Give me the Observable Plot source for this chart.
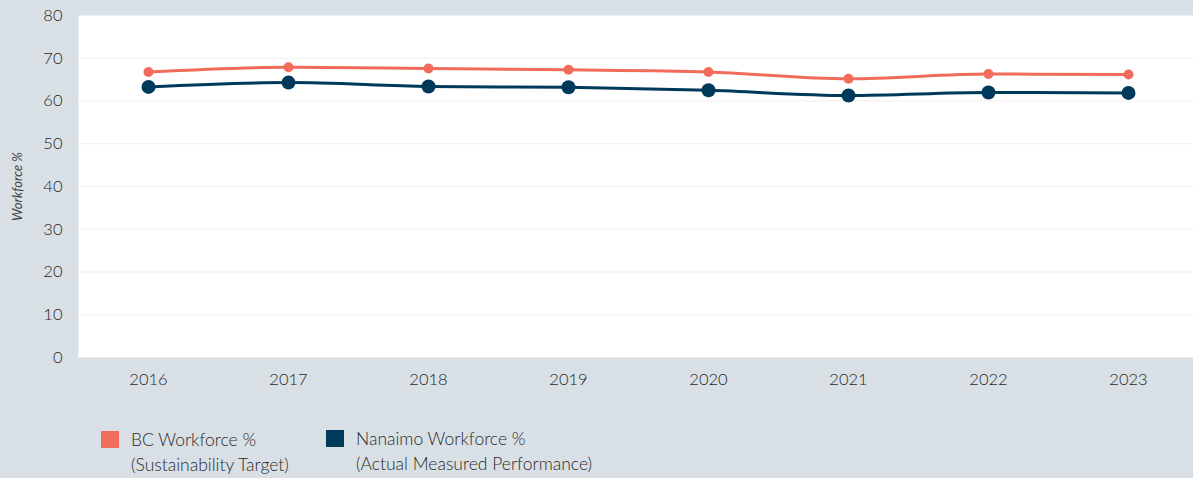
<!DOCTYPE html>
<html>
<head>
<meta charset="utf-8">
<script src="https://cdn.jsdelivr.net/npm/d3@7"></script>
<script src="https://cdn.jsdelivr.net/npm/@observablehq/plot@0.6"></script>
<style>
  html, body { margin: 0; padding: 0; background: #d9e0e5; overflow: hidden; }
  body { width: 1193px; height: 478px; position: relative; font-family: Lato, "Open Sans", sans-serif; color: #444; }
  #chart { position: absolute; left: 0; top: 0; }
  #chart svg g[aria-label="x-axis tick label"] text, #chart svg g[aria-label="y-axis tick label"] text { font-weight: 300; fill: #1e1e1e; }
  .legend-item { position: absolute; display: flex; align-items: flex-start; }
  .swatch { width: 18px; height: 17px; flex: none; }
  .lbl { font-size: 17.5px; font-weight: 300; line-height: 24.5px; color: #2a2a2a; margin-left: 12px; margin-top: -3px; white-space: nowrap; }
</style>
</head>
<body>
<div id="chart"></div>
<div id="legend"></div>
<script>
const years = [2016, 2017, 2018, 2019, 2020, 2021, 2022, 2023];
const bcValues = [66.8, 67.9, 67.6, 67.3, 66.8, 65.2, 66.3, 66.2];
const nanaimoValues = [63.3, 64.3, 63.4, 63.2, 62.5, 61.3, 62.0, 61.9];
const yTicks = [0, 10, 20, 30, 40, 50, 60, 70, 80];
const seriesNames = ["BC Workforce %", "Nanaimo Workforce %"];
const seriesSubtitles = ["(Sustainability Target)", "(Actual Measured Performance)"];
const seriesColors = ["#f26c5c", "#003a5b"];
const yLabel = "Workforce %";

const bcData = years.map((y, i) => ({year: y, value: bcValues[i]}));
const nanData = years.map((y, i) => ({year: y, value: nanaimoValues[i]}));

const chart = Plot.plot({
  width: 1193,
  height: 410,
  marginLeft: 78,
  marginRight: 0,
  marginTop: 15,
  marginBottom: 53,
  style: {background: "transparent", fontFamily: "Lato, 'Open Sans', sans-serif", fontSize: "16.5px", color: "#1e1e1e"},
  x: {type: "point", domain: years, range: [148, 1128], padding: 0, label: null},
  y: {domain: [0, 80], label: null},
  marks: [
    Plot.frame({fill: "white", stroke: "none"}),
    Plot.ruleY(yTicks.slice(0, -1), {stroke: "#efefef", strokeWidth: 1}),
    Plot.axisX({tickSize: 0, tickPadding: 16, tickFormat: d => String(d), label: null}),
    Plot.axisY({ticks: yTicks, tickSize: 0, tickPadding: 16, label: null}),
    Plot.text([yLabel], {text: d => d, frameAnchor: "left", textAnchor: "middle", dx: -61, rotate: -90, fontStyle: "italic", fontSize: 13, fill: "#444"}),
    Plot.lineY(bcData, {x: "year", y: "value", stroke: seriesColors[0], strokeWidth: 3, curve: "monotone-x"}),
    Plot.dot(bcData, {x: "year", y: "value", fill: seriesColors[0], r: 5}),
    Plot.lineY(nanData, {x: "year", y: "value", stroke: seriesColors[1], strokeWidth: 3, curve: "monotone-x"}),
    Plot.dot(nanData, {x: "year", y: "value", fill: seriesColors[1], r: 7})
  ]
});
document.getElementById("chart").appendChild(chart);

const legend = document.getElementById("legend");
const positions = [{left: 101, top: 431}, {left: 326, top: 430}];
seriesNames.forEach((name, i) => {
  const item = document.createElement("div");
  item.className = "legend-item";
  item.style.left = positions[i].left + "px";
  item.style.top = positions[i].top + "px";
  const sw = document.createElement("div");
  sw.className = "swatch";
  sw.style.background = seriesColors[i];
  const lbl = document.createElement("div");
  lbl.className = "lbl";
  lbl.innerHTML = name + "<br>" + seriesSubtitles[i];
  item.appendChild(sw);
  item.appendChild(lbl);
  legend.appendChild(item);
});
</script>
</body>
</html>
